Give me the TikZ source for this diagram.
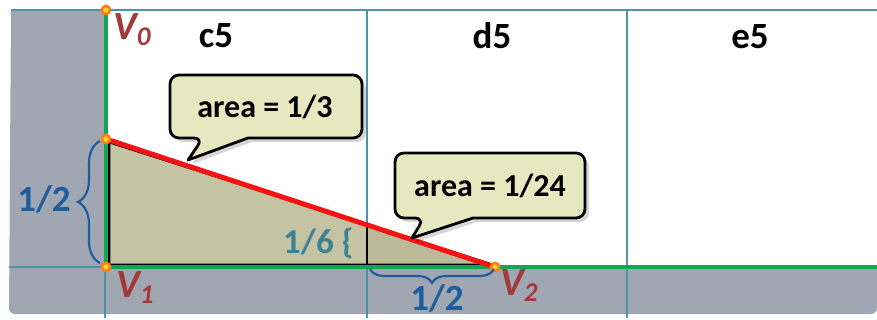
\documentclass[tikz,border=0pt]{standalone}
\usepackage{fontspec}
\setmainfont{Carlito}
\usetikzlibrary{decorations.pathreplacing}
\definecolor{graybg}{HTML}{A1A7B2}
\definecolor{gridc}{HTML}{4D93A9}
\definecolor{greenc}{HTML}{14A550}
\definecolor{redc}{HTML}{F21414}
\definecolor{olivef}{HTML}{C4C3A3}
\definecolor{olivef2}{HTML}{BCBA98}
\definecolor{calloutf}{HTML}{E6E8C0}
\definecolor{bluec}{HTML}{1F5E9C}
\definecolor{tealc}{HTML}{3F8194}
\definecolor{vred}{HTML}{A33A3A}
\definecolor{ptorange}{HTML}{FF7F10}
\definecolor{ptyellow}{HTML}{FFD23A}
\tikzset{
  gridline/.style={draw=gridc, line width=1.8},
  greenline/.style={draw=greenc, line width=4},
  cellname/.style={font=\fontsize{37}{37}\selectfont\bfseries, anchor=base, text=black},
  arealabel/.style={font=\fontsize{32}{32}\selectfont\bfseries, anchor=base, text=black},
  vlabel/.style={font=\fontsize{40}{40}\selectfont\bfseries\itshape, text=vred, anchor=base west, inner sep=0},
  measure/.style={font=\fontsize{37}{37}\selectfont\bfseries, anchor=base, text=bluec},
  bracestyle/.style={draw=bluec, line width=2.2, decorate},
  callout/.style={fill=calloutf, draw=black, line width=2.8, line join=round},
  shadowstyle/.style={fill=black, opacity=0.16}
}
\newcommand{\vtext}[1]{V\raisebox{-6pt}{\fontsize{27}{27}\selectfont #1}}
\begin{document}
\begin{tikzpicture}[x=1pt,y=-1pt]
\useasboundingbox (0,0) rectangle (877,320);
% key points
\coordinate (V0) at (106,10);
\coordinate (P) at (106,139);
\coordinate (V1) at (106,267);
\coordinate (V2) at (495,267);
\coordinate (M) at (367,225);
\coordinate (Mb) at (367,265);
\coordinate (R) at (877,267);
% gray margins
\fill[graybg] (105,10) -- (11,10) [rounded corners=6] -- (9,314) -- (877,314) [sharp corners] -- (877,267) -- (105,267) -- cycle;
% grid
\draw[gridline] (11,10) -- (877,10);
\draw[gridline] (9,267) -- (877,267);
\draw[gridline] (105,10) -- (105,318);
\draw[gridline] (367,10) -- (367,318);
\draw[gridline] (627,10) -- (627,318);
% triangle
\fill[olivef] (109,141) -- (109,265) -- (493,265) -- cycle;
\fill[olivef2] (M) -- (Mb) -- (493,265) -- cycle;
\draw[black, line width=2.6, line join=round] (109,142) -- (109,265) -- (493,265) -- cycle;
\draw[black, line width=2.4] (M) -- (Mb);
% green boundary
\draw[greenline] (V0) -- (V1) -- (R);
% red hypotenuse
\draw[redc, line width=5] (P) -- (V2);
% points
\foreach \p in {V0,P,V1,V2} {
  \fill[ptorange] (\p) circle (5.5);
  \fill[ptyellow] (\p) circle (2.6);
}
% braces
\draw[bracestyle, decoration={brace, amplitude=22}] (100,263) -- (100,141);
\draw[bracestyle, decoration={brace, amplitude=14}] (494,269) -- (370,269);
% callout 1
\path[shadowstyle] ([shift={(4,4)}]203,138) -- ([shift={(4,4)}]188,160) -- ([shift={(4,4)}]248,138) [rounded corners=9] -- ([shift={(4,4)}]362,138) -- ([shift={(4,4)}]362,75) -- ([shift={(4,4)}]170,75) -- ([shift={(4,4)}]170,138) -- cycle;
\path[callout] (203,138) -- (188,160) -- (248,138) [rounded corners=9] -- (362,138) -- (362,75) -- (170,75) -- (170,138) -- cycle;
% callout 2
\path[shadowstyle] ([shift={(4,4)}]424,218) -- ([shift={(4,4)}]412,238) -- ([shift={(4,4)}]473,218) [rounded corners=9] -- ([shift={(4,4)}]585,218) -- ([shift={(4,4)}]585,153) -- ([shift={(4,4)}]395,153) -- ([shift={(4,4)}]395,218) -- cycle;
\path[callout] (424,218) -- (412,238) -- (473,218) [rounded corners=9] -- (585,218) -- (585,153) -- (395,153) -- (395,218) -- cycle;
% texts
\node[cellname] (c5) at (216,48) {c5};
\node[cellname] (d5) at (492,49) {d5};
\node[cellname] (e5) at (750,49) {e5};
\node[arealabel] (a1) at (265,118) {area = 1/3};
\node[arealabel] (a2) at (490,197) {area = 1/24};
\node[vlabel] (lv0) at (113,40) {\vtext{0}};
\node[vlabel] (lv1) at (116,297) {\vtext{1}};
\node[vlabel] (lv2) at (500,295) {\vtext{2}};
\node[measure] (h12) at (44,212) {1/2};
\node[measure] (b12) at (437,310) {1/2};
\node[font=\fontsize{35}{35}\selectfont\bfseries, anchor=base west, text=tealc, inner sep=0] (h16) at (283,253) {1/6 \{};
\end{tikzpicture}
\end{document}
